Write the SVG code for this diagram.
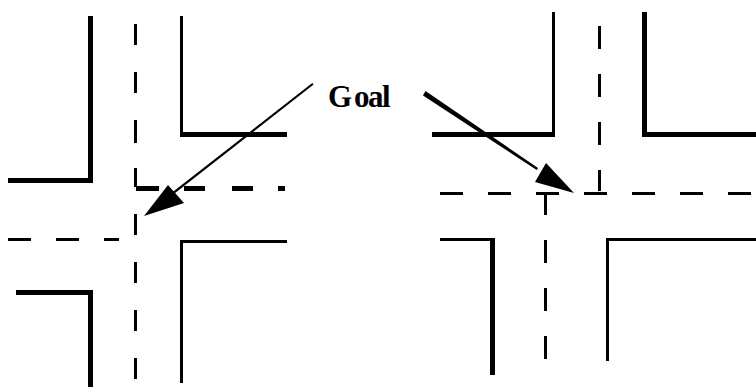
<svg xmlns="http://www.w3.org/2000/svg" width="756" height="387" viewBox="0 0 756 387">
<style>
.r{fill:#000;stroke:none}
text{font-family:"Liberation Serif","Times New Roman",serif;font-weight:bold;font-size:31px;fill:#000}
</style>
<rect width="756" height="387" fill="#fff"/>
<g id="left-intersection" class="r">
<path d="M88 16h5v167H8v-5h80z"/>
<path d="M180 16h3v116h104v5H180z"/>
<path d="M180 240h107v3H183v140h-3z"/>
<path d="M16 290h77v97h-5V295H16z"/>
<path d="M134 24h3v21h-3zM134 72h3v21h-3zM134 120h3v23h-3zM134 168h3v19h-3zM134 214h3v21h-3zM134 262h3v21h-3zM134 310h3v21h-3zM134 358h3v21h-3z"/>
<path d="M136 186h23v5h-23zM184 186h21v5h-21zM232 186h21v5h-21zM278 186h7v5h-7z"/>
<path d="M8 238h23v3H8zM56 238h23v3H56zM104 238h15v3h-15z"/>
</g>
<g id="right-intersection" class="r">
<path d="M552 12h3v125H432v-5h120z"/>
<path d="M642 12h5v120h109v5H642z"/>
<path d="M440 238h55v137h-5V241h-50z"/>
<path d="M606 238h150v3H609v120h-3z"/>
<path d="M598 26h3v23h-3zM598 74h3v23h-3zM598 122h3v23h-3zM598 170h3v21h-3z"/>
<path d="M440 192h23v3h-23zM488 192h23v3h-23zM536 192h23v3h-23zM584 192h23v3h-23zM632 192h23v3h-23zM680 192h23v3h-23zM728 192h23v3h-23z"/>
<path d="M544 194h3v21h-3zM544 240h3v23h-3zM544 288h3v23h-3zM544 336h3v23h-3z"/>
</g>
<g id="goal-label"><text x="328 354 368 382" y="107">Goal</text></g>
<g id="connectors" class="r">
<path d="M312.300 83l1.300 1.600L170 197l-1.500-1.700z"/>
<path d="M144 216l24-31 16 18z"/>
<path d="M423 95.500l2.500-4.500L538 168l-1.300 2z"/>
<path d="M574 193l-28-30-11 19z"/>
</g>
</svg>
